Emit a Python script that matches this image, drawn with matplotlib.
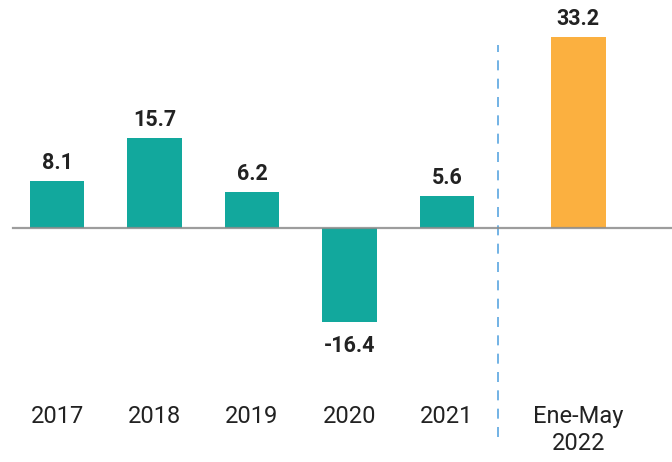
import numpy as np
import matplotlib.pyplot as plt

# data
categories = ['2017', '2018', '2019', '2020', '2021', 'Ene-May\n2022']
values = [8.1, 15.7, 6.2, -16.4, 5.6, 33.2]
labels = ['8.1', '15.7', '6.2', '-16.4', '5.6', '33.2']

teal = '#12a89d'
orange = '#fbb040'

plt.rcParams['font.family'] = ['Roboto', 'DejaVu Sans']

fig = plt.figure(figsize=(6.72, 4.62), dpi=100)
ax = fig.add_axes([0, 0, 1, 1])

# five yearly bars, then a gap before the partial-year bar
x = np.arange(len(categories), dtype=float)
x[-1] += 0.35
colors = [teal] * (len(categories) - 1) + [orange]

ax.bar(x, values, width=0.56, color=colors, zorder=2)

# zero line and the separator between full years and 2022
ax.axhline(0, xmin=0.019, xmax=1, color='#8c8c8c', lw=1.6, alpha=0.85, zorder=3)
sep = (x[-2] + x[-1]) / 2 - 0.15
ax.axvline(sep, ymin=0.054, ymax=0.903, color='#5aa6e0', lw=1.2,
           dashes=(6, 5), zorder=1)

# value labels above (or below) each bar
for xi, v, lab in zip(x, values, labels):
    if v >= 0:
        ax.annotate(lab, (xi, v), xytext=(0, 5), textcoords='offset points',
                    ha='center', va='bottom', fontsize=15.5, fontweight='bold',
                    color='#222222')
    else:
        ax.annotate(lab, (xi, v), xytext=(0, -9), textcoords='offset points',
                    ha='center', va='top', fontsize=15.5, fontweight='bold',
                    color='#222222')

# category labels along the bottom
trans = ax.get_xaxis_transform()
for xi, cat in zip(x, categories):
    ax.text(xi, 0.124, cat, transform=trans, ha='center', va='top',
            fontsize=17, color='#222222', linespacing=1.25)

ax.set_xlim(-0.585, 6.31)
ax.set_ylim(-40.7, 39.65)
ax.axis('off')

fig.savefig('out.png', dpi=100)
